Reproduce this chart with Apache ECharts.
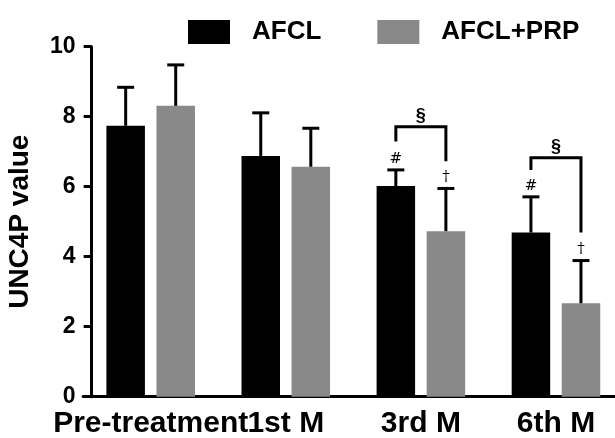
<!DOCTYPE html>
<html><head><meta charset="utf-8">
<script src="https://cdn.jsdelivr.net/npm/echarts/dist/echarts.min.js"></script>
<style>html,body{margin:0;padding:0;background:#fff}#c{width:615px;height:438px}</style>
</head><body><div id="c"></div>
<script>
// ---- data ----
const categories = ['Pre-treatment', '1st M', '3rd M', '6th M'];
const seriesNames = ['AFCL', 'AFCL+PRP'];
const afclMean = [7.74, 6.88, 6.02, 4.69];
const afclSD   = [1.10, 1.23, 0.46, 1.02];
const prpMean  = [8.31, 6.57, 4.73, 2.67];
const prpSD    = [1.17, 1.10, 1.22, 1.22];
const afclMarks = ['', '', '#', '#'];
const prpMarks  = ['', '', '\u2020', '\u2020'];
// significance brackets between the two bars of a category
const bracketCat      = [2, 3];
const bracketTop      = [7.71, 6.83];
const bracketLeftEnd  = [7.29, 6.48];
const bracketRightEnd = [6.73, 4.69];
const bracketLabel    = ['\u00a7', '\u00a7'];
const yMin = 0, yMax = 10, yInterval = 2;

// ---- styling / layout ----
const FONT = '"Liberation Sans", Arial, Helvetica, sans-serif';
const BAR_W = 38.5, BAR_GAP = 0.3;
const OFF = BAR_W * (1 + BAR_GAP) / 2;
const COLORS = ['#000000', '#898989'];

function errRender(sign, marks) {
  return function (params, api) {
    const i = api.value(0), m = api.value(1), s = api.value(2);
    const base = api.coord([i, m]);
    const top = api.coord([i, m + s]);
    const x = base[0] + sign * OFF;
    const ch = [
      {type: 'line', shape: {x1: x, y1: base[1], x2: x, y2: top[1]}, style: {stroke: '#000', lineWidth: 3}},
      {type: 'line', shape: {x1: x - 8.5, y1: top[1], x2: x + 8.5, y2: top[1]}, style: {stroke: '#000', lineWidth: 3}}
    ];
    if (marks[i]) {
      ch.push({type: 'text', x: x, y: top[1] - 11, style: {
        text: marks[i], fill: '#000', font: '15px "DejaVu Serif", serif', textAlign: 'center', textVerticalAlign: 'middle'}});
    }
    return {type: 'group', children: ch};
  };
}

function bracketRender(params, api) {
  const i = api.value(0);
  const t = api.coord([i, api.value(1)]);
  const l = api.coord([i, api.value(2)]);
  const r = api.coord([i, api.value(3)]);
  const xL = t[0] - OFF, xR = t[0] + OFF;
  return {type: 'group', children: [
    {type: 'polyline', shape: {points: [[xL, l[1]], [xL, t[1]], [xR, t[1]], [xR, r[1]]]},
     style: {stroke: '#000', lineWidth: 3, fill: null}},
    {type: 'text', x: t[0], y: t[1] - 11, style: {
      text: bracketLabel[params.dataIndex], fill: '#000', font: 'bold 18px ' + FONT,
      textAlign: 'center', textVerticalAlign: 'middle'}}
  ]};
}

const chart = echarts.init(document.getElementById('c'), null, {renderer: 'canvas'});
chart.setOption({
  animation: false,
  backgroundColor: '#fff',
  grid: {left: 83.15, right: -8.5, top: 46.7, bottom: 41.3, containLabel: false, outerBoundsMode: 'none'},
  legend: {
    left: 183, top: 14, itemWidth: 42, itemHeight: 24, itemGap: 56, icon: 'rect',
    data: seriesNames,
    textStyle: {fontFamily: FONT, fontSize: 26, fontWeight: 'bold', color: '#000', padding: [0, 0, 0, 17]}
  },
  xAxis: {
    type: 'category', data: categories,
    axisLine: {lineStyle: {color: '#000', width: 3}},
    axisTick: {alignWithLabel: true, length: 8, lineStyle: {color: '#000', width: 3}},
    axisLabel: {interval: 0, margin: 12, color: '#000', fontFamily: FONT, fontSize: 30, fontWeight: 'bold'},
    splitLine: {show: false}
  },
  yAxis: {
    type: 'value', min: yMin, max: yMax, interval: yInterval, offset: -8.5,
    name: 'UNC4P value', nameLocation: 'middle', nameGap: 57,
    nameTextStyle: {fontFamily: FONT, fontSize: 28, fontWeight: 'bold', color: '#000'},
    axisLine: {show: true, lineStyle: {color: '#000', width: 3}},
    axisTick: {show: true, length: 8, lineStyle: {color: '#000', width: 3}},
    axisLabel: {margin: 16, color: '#000', fontFamily: FONT, fontSize: 23, fontWeight: 'bold'},
    splitLine: {show: false}
  },
  series: [
    {name: seriesNames[0], type: 'bar', data: afclMean, barWidth: BAR_W, barGap: (BAR_GAP * 100) + '%',
     itemStyle: {color: COLORS[0]}},
    {name: seriesNames[1], type: 'bar', data: prpMean, barWidth: BAR_W, barGap: (BAR_GAP * 100) + '%',
     itemStyle: {color: COLORS[1]}},
    {type: 'custom', z: 10, renderItem: errRender(-1, afclMarks),
     data: afclMean.map((v, i) => [i, v, afclSD[i]])},
    {type: 'custom', z: 10, renderItem: errRender(1, prpMarks),
     data: prpMean.map((v, i) => [i, v, prpSD[i]])},
    {type: 'custom', z: 10, renderItem: bracketRender,
     data: bracketCat.map((c, k) => [c, bracketTop[k], bracketLeftEnd[k], bracketRightEnd[k]])}
  ]
});
</script>
</body></html>
